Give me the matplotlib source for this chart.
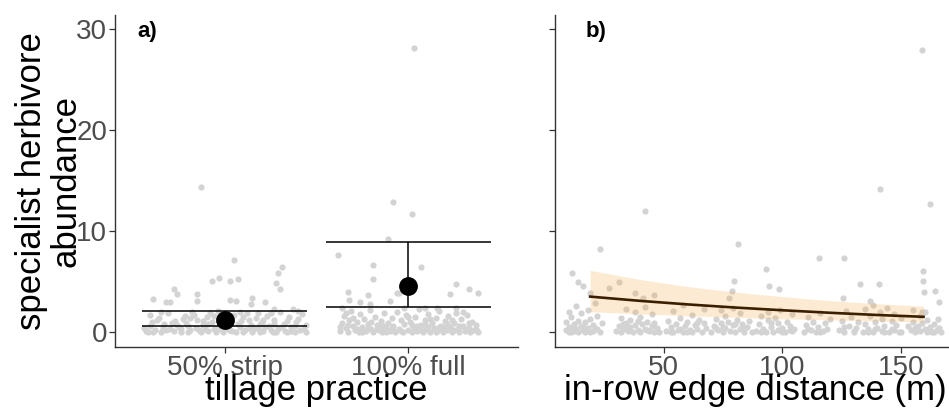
import matplotlib
matplotlib.use("Agg")
import matplotlib.pyplot as plt

plt.rcParams['font.family'] = ['Liberation Sans', 'DejaVu Sans']

# ---------------- data ----------------
categories = ["50% strip", "100% full"]

# panel a raw points: (jitter offset within category, abundance)
strip_pts = [
    (-0.13, 14.4), (0.05, 7.1), (0.31, 6.4), (0.29, 5.8), (-0.07, 5.0), (-0.03, 5.3), (0.03, 5.0), (0.07, 5.2),
    (-0.28, 4.3), (-0.26, 3.8), (-0.15, 3.8), (0.28, 4.8), (0.30, 4.3), (-0.39, 3.3), (-0.32, 3.0), (-0.30, 3.0),
    (-0.15, 3.1), (0.03, 3.2), (0.06, 3.1), (0.15, 3.4), (0.14, 2.8), (0.22, 3.0), (0.27, 2.3), (0.37, 2.3),
    (-0.43, 0.1), (-0.41, 0.6), (-0.40, 1.0), (-0.38, 0.2), (-0.36, 1.4), (-0.35, 0.0), (-0.33, 0.8), (-0.31, 1.9),
    (-0.30, 0.3), (-0.28, 0.1), (-0.27, 1.1), (-0.25, 0.5), (-0.24, 0.0), (-0.22, 1.6), (-0.21, 0.9), (-0.19, 0.2),
    (-0.18, 2.0), (-0.16, 0.4), (-0.15, 1.2), (-0.13, 0.0), (-0.12, 0.7), (-0.10, 1.5), (-0.09, 0.1), (-0.07, 1.0),
    (-0.06, 0.3), (-0.04, 2.1), (-0.03, 0.6), (-0.01, 0.0), (0.00, 1.3), (0.02, 0.2), (0.03, 0.9), (0.05, 1.7),
    (0.06, 0.0), (0.08, 0.5), (0.09, 1.1), (0.11, 0.2), (0.12, 1.9), (0.14, 0.7), (0.15, 0.0), (0.17, 1.4),
    (0.18, 0.4), (0.20, 1.0), (0.21, 0.1), (0.23, 1.6), (0.24, 0.6), (0.26, 0.0), (0.27, 1.2), (0.29, 0.3),
    (0.30, 2.0), (0.32, 0.8), (0.33, 0.1), (0.35, 1.5), (0.36, 0.5), (0.38, 0.0), (0.39, 1.0), (0.41, 0.2),
    (0.42, 1.8), (0.44, 0.0), (0.44, 0.7), (-0.42, 0.0), (-0.20, 0.0), (0.10, 0.0), (0.28, 0.0), (-0.05, 0.0),
    (0.36, 0.1), (-0.34, 0.4), (0.22, 0.5), (-0.11, 0.3), (0.00, 0.4), (0.16, 0.3), (-0.37, 1.2), (-0.23, 1.3),
    (-0.08, 1.9), (0.13, 1.2), (0.25, 1.9), (0.40, 1.3), (-0.26, 0.7), (0.19, 0.8), (-0.17, 1.7), (0.34, 1.1),
    (-0.44, 0.4), (-0.39, 0.0), (-0.32, 0.2), (-0.29, 0.9), (-0.20, 0.6), (-0.14, 0.2), (-0.09, 0.8), (-0.02, 0.3),
    (0.04, 0.1), (0.07, 0.8), (0.10, 1.5), (0.13, 0.4), (0.18, 1.9), (0.21, 1.2), (0.25, 0.2), (0.31, 0.5),
    (0.34, 0.0), (0.38, 0.6), (0.43, 0.3), (-0.41, 1.7), (-0.35, 2.0), (-0.19, 1.4), (-0.06, 1.6), (0.08, 2.0),
    (0.27, 0.8), (0.40, 2.1), (-0.24, 0.3), (0.01, 0.7), (0.19, 0.0), (-0.12, 1.1),
]

full_pts = [
    (0.03, 28.1), (-0.08, 12.9), (0.02, 11.7), (-0.11, 9.2), (-0.38, 7.6), (-0.19, 6.6), (0.07, 6.4), (-0.19, 5.2),
    (0.26, 4.7), (0.33, 4.3), (0.38, 3.9), (-0.33, 4.0), (-0.22, 3.7), (-0.06, 3.9), (0.23, 3.8), (-0.26, 3.0),
    (-0.10, 3.1), (-0.32, 3.2), (-0.05, 3.9), (-0.21, 2.8), (0.09, 2.4), (0.16, 2.4), (0.26, 2.4), (-0.36, 2.4),
    (-0.37, 0.1), (-0.36, 0.9), (-0.35, 1.6), (-0.34, 0.4), (-0.33, 0.0), (-0.32, 1.2), (-0.31, 2.1), (-0.30, 0.6),
    (-0.29, 0.2), (-0.28, 1.0), (-0.27, 0.0), (-0.26, 1.8), (-0.25, 0.5), (-0.24, 1.3), (-0.23, 0.1), (-0.22, 0.8),
    (-0.21, 2.2), (-0.20, 0.3), (-0.19, 0.0), (-0.18, 1.5), (-0.17, 0.7), (-0.16, 0.2), (-0.15, 1.1), (-0.14, 0.0),
    (-0.13, 1.9), (-0.12, 0.4), (-0.11, 0.9), (-0.10, 0.1), (-0.09, 1.4), (-0.08, 0.6), (-0.07, 0.0), (-0.06, 2.0),
    (-0.05, 0.3), (-0.04, 1.2), (-0.03, 0.0), (-0.02, 0.8), (-0.01, 1.7), (0.00, 0.2), (0.01, 1.0), (0.02, 0.0),
    (0.03, 0.5), (0.04, 1.5), (0.05, 0.1), (0.06, 2.3), (0.07, 0.7), (0.08, 0.0), (0.09, 1.2), (0.10, 0.3),
    (0.11, 1.8), (0.12, 0.0), (0.13, 0.9), (0.14, 0.4), (0.15, 1.4), (0.16, 0.1), (0.17, 2.1), (0.18, 0.6),
    (0.19, 0.0), (0.20, 1.1), (0.21, 0.2), (0.22, 1.6), (0.23, 0.5), (0.24, 0.0), (0.25, 0.9), (0.26, 1.9),
    (0.27, 0.3), (0.28, 0.0), (0.29, 1.3), (0.30, 0.6), (0.31, 0.1), (0.32, 1.7), (0.33, 0.4), (0.34, 0.0),
    (0.35, 1.0), (0.36, 0.2), (0.37, 0.7), (0.38, 0.0), (-0.28, 0.3), (-0.12, 0.0), (0.05, 0.6), (0.21, 0.8),
    (-0.20, 1.0), (0.12, 1.3), (-0.02, 2.4), (0.30, 2.0), (-0.34, 1.9), (0.18, 0.3), (-0.08, 0.2), (0.00, 1.5),
    (-0.37, 0.5), (-0.30, 1.4), (-0.25, 0.0), (-0.17, 0.3), (-0.13, 0.6), (-0.04, 0.1), (0.02, 0.7), (0.07, 0.2),
    (0.11, 0.5), (0.15, 0.0), (0.20, 0.4), (0.24, 1.2), (0.28, 0.6), (0.33, 0.9), (0.37, 0.3), (-0.22, 0.4),
    (-0.09, 0.4), (0.04, 0.3), (0.17, 0.5), (0.31, 0.3), (-0.33, 0.7), (-0.15, 0.5), (0.09, 0.8), (0.25, 0.2),
]

# panel a model estimates
cat_mean = [1.19, 4.6]
cat_lower = [0.6, 2.45]
cat_upper = [2.1, 8.9]

# panel b raw points: (edge distance m, abundance)
dist_pts = [
    (158.8, 27.9), (141.2, 14.2), (162.2, 12.7), (42.0, 12.0), (81.1, 8.7), (23.1, 8.2), (115.5, 7.3), (126.0, 7.3),
    (93.3, 6.2), (11.3, 5.8), (159.2, 6.0), (159.2, 5.0), (79.8, 5.0), (132.8, 4.7), (140.8, 4.7), (94.5, 4.6),
    (98.7, 4.3), (159.7, 4.0), (164.3, 4.1), (13.9, 4.9), (16.0, 4.6), (31.1, 4.9), (26.9, 4.4), (37.8, 3.9),
    (45.8, 3.7), (41.2, 3.4), (18.9, 3.9), (78.6, 4.1), (77.7, 3.4), (125.6, 3.4), (137.0, 3.1), (166.0, 3.0),
    (165.6, 1.3),
    (9, 0.2), (9, 1.0), (10, 0.5), (10, 2.0), (11, 0.0), (11, 1.5), (12, 0.8), (12, 0.1), (13, 0.3), (13, 2.6),
    (14, 1.1), (14, 0.0), (15, 0.6), (15, 1.9), (16, 0.2), (17, 1.0), (17, 0.0), (18, 0.4), (18, 2.2), (19, 1.3),
    (20, 0.1), (20, 0.7), (21, 2.9), (22, 0.3), (22, 1.6), (23, 0.0), (24, 0.9),
    (30, 0.1), (31, 0.6), (32, 1.4), (32, 0.0), (33, 0.3), (34, 2.3), (34, 0.9), (35, 0.1), (36, 1.2), (36, 0.5),
    (37, 0.0), (38, 2.0), (38, 0.7), (39, 0.2), (40, 1.5), (40, 0.0), (41, 0.8), (42, 0.3), (42, 2.5), (43, 1.0),
    (44, 0.1), (45, 0.6), (45, 1.8), (46, 0.0), (47, 0.4),
    (51, 0.1), (52, 1.1), (53, 0.5), (54, 2.1), (54, 0.0), (55, 0.8), (56, 0.2), (57, 1.4), (58, 0.0), (58, 2.7),
    (59, 0.6), (60, 1.0), (61, 0.2), (62, 1.7), (62, 0.0), (63, 0.7), (64, 0.3), (65, 1.2), (66, 0.0), (67, 0.9),
    (67, 2.3),
    (70, 0.0), (71, 0.6), (72, 1.3), (73, 0.2), (74, 2.2), (74, 0.9), (75, 0.0), (76, 1.6), (76, 0.4), (77, 1.0),
    (78, 0.1), (79, 2.4), (79, 0.7), (80, 0.0), (81, 1.2), (82, 0.3), (82, 1.9), (83, 0.8), (84, 0.0), (85, 0.5),
    (86, 1.1),
    (89, 0.1), (90, 0.8), (91, 1.6), (92, 0.3), (93, 0.0), (94, 1.2), (94, 2.0), (95, 0.5), (96, 0.0), (97, 1.4),
    (98, 0.2), (98, 0.9), (99, 2.2), (100, 0.4), (101, 0.0), (102, 1.0), (103, 0.6), (104, 1.8), (104, 0.1), (105, 0.3),
    (109, 0.0), (110, 0.7), (111, 1.5), (112, 0.2), (113, 1.0), (114, 0.0), (115, 0.5), (116, 1.9), (117, 0.1),
    (118, 0.9), (119, 0.3), (120, 1.3),
    (124, 0.2), (125, 1.1), (126, 0.0), (127, 2.1), (128, 0.6), (129, 1.5), (130, 0.1), (131, 0.4), (132, 1.0),
    (134, 0.0), (135, 2.3), (135, 0.8), (136, 0.3), (137, 1.6), (138, 0.0), (138, 2.7), (139, 1.0), (140, 0.4),
    (141, 2.0), (142, 0.1), (142, 1.3), (143, 0.6), (144, 2.4), (145, 0.0), (146, 1.1), (146, 0.3), (147, 1.8),
    (148, 0.7), (149, 0.0), (150, 1.4),
    (154, 0.2), (155, 1.0), (155, 2.2), (156, 0.0), (157, 0.6), (158, 1.6), (158, 0.1), (159, 2.0), (159, 0.9),
    (160, 0.3), (160, 2.0), (161, 0.0), (161, 1.2), (162, 0.5), (163, 0.0), (164, 0.8), (165, 0.2), (166, 0.4),
    (167, 0.0),
    (10, 0.0), (12, 0.5), (16, 0.6), (19, 0.0), (21, 0.4), (33, 0.8), (35, 0.5), (39, 1.1), (43, 0.2), (46, 0.9),
    (53, 0.0), (57, 0.3), (60, 0.0), (64, 0.9), (72, 0.4), (75, 0.5), (80, 0.8), (84, 0.3), (91, 0.0), (95, 0.9),
    (100, 0.0), (103, 0.2), (111, 0.3), (116, 0.0), (126, 0.5), (130, 0.0), (136, 0.0), (139, 0.3), (143, 0.0),
    (147, 0.2), (150, 0.0), (156, 0.4), (162, 0.1), (164, 0.0), (153, 0.6), (87, 0.0), (68, 0.4), (48, 0.0),
]

# panel b fitted curve and confidence band
fit_x = [19, 40, 60, 80, 100, 120, 140, 159.5]
fit_y = [3.5, 3.08, 2.73, 2.42, 2.15, 1.90, 1.68, 1.50]
fit_lo = [2.0, 1.8, 1.6, 1.45, 1.3, 1.2, 1.08, 1.0]
fit_hi = [6.1, 5.2, 4.5, 3.95, 3.5, 3.1, 2.8, 2.55]

# ---------------- figure ----------------
W, H = 949, 409
fig = plt.figure(figsize=(W / 100, H / 100), dpi=100)

def frac_box(x0, x1, ytop, ybot):
    return [x0 / W, (H - ybot) / H, (x1 - x0) / W, (ybot - ytop) / H]

axA = fig.add_axes(frac_box(115, 518, 15, 347))
axB = fig.add_axes(frac_box(555, 949, 15, 347))

pt_color = "#D3D3D3"
tick_color = "#4D4D4D"
ylim = (-1.49, 31.39)

for ax in (axA, axB):
    ax.set_ylim(*ylim)
    ax.set_yticks([0, 10, 20, 30])
    for s in ("top", "right"):
        ax.spines[s].set_visible(False)
    for s in ("left", "bottom"):
        ax.spines[s].set_color("#333333")
        ax.spines[s].set_linewidth(1.0)
    ax.tick_params(axis="both", direction="out", length=4, width=0.9, color="#333333",
                   labelsize=20, labelcolor=tick_color, pad=1.5)

# panel a
sx = [i + dx for i, pts in enumerate([strip_pts, full_pts]) for dx, _ in pts]
sy = [y for pts in [strip_pts, full_pts] for _, y in pts]
axA.scatter(sx, sy, s=20, color=pt_color, linewidths=0, zorder=1)
for i in range(len(categories)):
    axA.hlines([cat_lower[i], cat_upper[i]], i - 0.45, i + 0.45, color="black", lw=1.1, zorder=2)
    axA.vlines(i, cat_lower[i], cat_upper[i], color="black", lw=1.1, zorder=2)
axA.plot(range(len(categories)), cat_mean, "o", color="black", markersize=12.5, zorder=3)
axA.set_xlim(-0.6, 1.6)
axA.set_xticks(range(len(categories)))
axA.set_xticklabels(categories)

# panel b
bx = [p[0] for p in dist_pts]
by = [p[1] for p in dist_pts]
axB.scatter(bx, by, s=20, color=pt_color, linewidths=0, zorder=1)
axB.fill_between(fit_x, fit_lo, fit_hi, color="#F9A23A", alpha=0.22, linewidth=0, zorder=2)
axB.plot(fit_x, fit_y, color="#3A2000", lw=1.9, zorder=3)
axB.set_xlim(4.2, 170.2)
axB.set_xticks([50, 100, 150])
axB.set_yticklabels([])

# labels
fig.text(48.5 / W, (H - 181) / H, "specialist herbivore\nabundance", rotation=90,
         ha="center", va="center", multialignment="center", fontsize=25, linespacing=1.05)
fig.text(316 / W, 9 / H, "tillage practice", ha="center", va="baseline", fontsize=25)
fig.text(755 / W, 9 / H, "in-row edge distance (m)", ha="center", va="baseline", fontsize=25)
fig.text(137 / W, (H - 37) / H, "a)", fontsize=16, fontweight="bold", ha="left", va="baseline")
fig.text(586 / W, (H - 37) / H, "b)", fontsize=16, fontweight="bold", ha="left", va="baseline")

fig.savefig("out.png", dpi=100)
